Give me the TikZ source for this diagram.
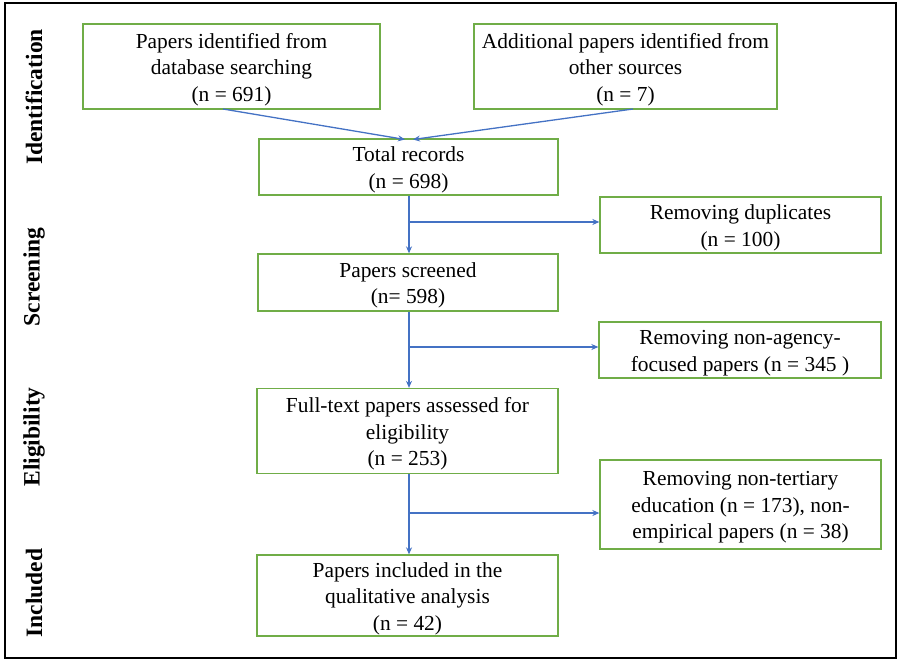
\documentclass[tikz,border=0pt]{standalone}
\usepackage{fontspec}
\setmainfont{Liberation Serif}
\usetikzlibrary{arrows.meta}
\definecolor{boxgreen}{RGB}{112,173,71}
\definecolor{arrowblue}{RGB}{68,114,196}
\tikzset{
  flowbox/.style={draw=boxgreen, line width=1.3pt, inner sep=0pt},
  boxtext/.style={align=center, inner sep=0pt, yshift=-3pt,
    font=\fontsize{21.4}{26.6}\selectfont},
  sidelabel/.style={rotate=90, font=\fontsize{23.5}{27}\selectfont\bfseries},
  flowarrow/.style={draw=arrowblue, line width=1.3pt, -{Stealth[length=7pt,width=6pt]}},
}
\begin{document}
\begin{tikzpicture}[x=1pt,y=-1pt]
\useasboundingbox (0,0) rectangle (901,661);
\draw[line width=2pt] (5,3) rectangle (896,658);

\node[sidelabel] (lid) at (34,97) {Identification};
\node[sidelabel] (lsc) at (34,277) {Screening};
\node[sidelabel] (lel) at (34,437) {Eligibility};
\node[sidelabel] (lin) at (34,593) {Included};

\node[flowbox, minimum width=297pt, minimum height=85pt] (db) at (231.5,66.5) {};
\node[boxtext] (dbt) at (db.center)
  {Papers identified from\\database searching\\(n = 691)};
\node[flowbox, minimum width=303pt, minimum height=85pt] (add) at (625.5,66.5) {};
\node[boxtext] (addt) at (add.center)
  {Additional papers identified from\\other sources\\(n = 7)};
\node[flowbox, minimum width=299pt, minimum height=56pt] (tot) at (408.5,167) {};
\node[boxtext] (tott) at (tot.center)
  {Total records\\(n = 698)};
\node[flowbox, minimum width=281pt, minimum height=56pt] (dup) at (740.5,225) {};
\node[boxtext] (dupt) at (dup.center)
  {Removing duplicates\\(n = 100)};
\node[flowbox, minimum width=300pt, minimum height=57pt] (scr) at (408,282.5) {};
\node[boxtext] (scrt) at (scr.center)
  {Papers screened\\(n= 598)};
\node[flowbox, minimum width=282pt, minimum height=56pt] (agn) at (740,350) {};
\node[boxtext] (agnt) at (agn.center)
  {Removing non-agency-\\focused papers (n = 345 )};
\node[flowbox, minimum width=301pt, minimum height=85pt] (ft) at (407.5,431) {};
\node[boxtext] (ftt) at (ft.center)
  {Full-text papers assessed for\\eligibility\\(n = 253)};
\node[flowbox, minimum width=281pt, minimum height=89pt] (ter) at (740.5,504.5) {};
\node[boxtext] (tert) at (ter.center)
  {Removing non-tertiary\\education (n = 173), non-\\empirical papers (n = 38)};
\node[flowbox, minimum width=301pt, minimum height=81pt] (inc) at (407.5,595.5) {};
\node[boxtext] (inct) at (inc.center)
  {Papers included in the\\qualitative analysis\\(n = 42)};

\coordinate (b1) at (223,109);
\coordinate (b2) at (633,109);
\coordinate (t1) at (405,139.5);
\coordinate (t2) at (413,139.5);
\draw[flowarrow] (b1) -- (t1);
\draw[flowarrow] (b2) -- (t2);

\coordinate (j1) at (409,222);
\draw[flowarrow] (tot.south -| j1) -- (scr.north -| j1);
\draw[flowarrow] (j1) -- (dup.west |- j1);

\coordinate (j2) at (409,347);
\draw[flowarrow] (scr.south -| j2) -- (ft.north -| j2);
\draw[flowarrow] (j2) -- (agn.west |- j2);

\coordinate (j3) at (409,513);
\draw[flowarrow] (ft.south -| j3) -- (inc.north -| j3);
\draw[flowarrow] (j3) -- (ter.west |- j3);
\end{tikzpicture}
\end{document}
